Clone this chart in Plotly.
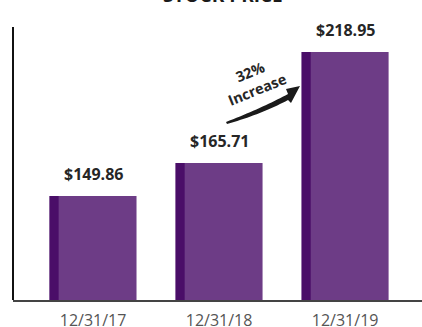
import plotly.graph_objects as go

# Year-end stock prices
dates = ["12/31/17", "12/31/18", "12/31/19"]
prices = [149.86, 165.71, 218.95]
price_labels = ["$149.86", "$165.71", "$218.95"]
change_label = "32%<br>Increase"

W, H = 422, 327
M_L, M_R, M_T, M_B = 13, 0, 27, 27
X_RANGE = [-0.635, 2.61]
Y_RANGE = [100.0, 231.0]

BAR_W = 0.69
STRIP_W = 0.072
MAIN = "#6D3C86"
DARK = "#4A0E68"

xs = list(range(len(dates)))

fig = go.Figure()
fig.add_trace(go.Bar(x=xs, y=prices, width=BAR_W, marker=dict(color=MAIN, line=dict(width=0)),
                     hoverinfo="skip"))
fig.add_trace(go.Bar(x=xs, y=prices, width=STRIP_W, offset=-BAR_W / 2,
                     marker=dict(color=DARK, line=dict(width=0)), hoverinfo="skip"))

# value labels above bars
for x, p, lab in zip(xs, prices, price_labels):
    fig.add_annotation(x=x, y=p, text=f"<b>{lab}</b>", showarrow=False, yanchor="bottom",
                       yshift=9, font=dict(family="Open Sans", size=16, color="#262626"))

# title (sits at the top edge)
fig.add_annotation(xref="paper", yref="paper", x=(223 - M_L) / (W - M_L), y=1, yanchor="bottom",
                   yshift=17, text="<b>STOCK PRICE</b>", showarrow=False,
                   font=dict(family="Open Sans", size=19, color="#1a1a1a"))

# growth callout text
pw, ph = W - M_L - M_R, H - M_T - M_B
def px(x, y):
    return (x - M_L) / pw, (H - M_B - y) / ph

tx, ty = px(253, 81)
fig.add_annotation(xref="paper", yref="paper", x=tx, y=ty, xanchor="center", yanchor="middle",
                   text=f"<b>{change_label}</b>", showarrow=False, textangle=-22,
                   font=dict(family="Open Sans", size=14.5, color="#262626"))

# curved tapered arrow
def bez(p0, p1, p2, n=20):
    pts = []
    for i in range(n + 1):
        t = i / n
        x = (1 - t) ** 2 * p0[0] + 2 * (1 - t) * t * p1[0] + t ** 2 * p2[0]
        y = (1 - t) ** 2 * p0[1] + 2 * (1 - t) * t * p1[1] + t ** 2 * p2[1]
        pts.append((x, y))
    return pts

upper = bez((226, 122), (262, 108), (288, 94))
lower = bez((288, 100), (262, 114), (227, 124))
head = [(286, 89), (300, 86), (291, 103)]
poly = upper + [head[0], head[1], head[2]] + lower
path = "M " + " L ".join(f"{px(a, b)[0]:.4f},{px(a, b)[1]:.4f}" for a, b in poly) + " Z"
fig.add_shape(type="path", xref="paper", yref="paper", path=path,
              fillcolor="#1a1a1a", line=dict(width=0))

# y axis line
fig.add_shape(type="line", xref="paper", yref="paper", x0=0, x1=0, y0=0, y1=1,
              line=dict(color="#111111", width=2))

fig.update_layout(
    width=W, height=H,
    margin=dict(l=M_L, r=M_R, t=M_T, b=M_B, autoexpand=False),
    paper_bgcolor="white", plot_bgcolor="white",
    barmode="overlay", showlegend=False,
    xaxis=dict(range=X_RANGE, tickvals=xs, ticktext=dates, showgrid=False, zeroline=False,
               automargin=False,
               showline=True, linecolor="#444444", linewidth=2,
               ticks="outside", ticklen=5, tickcolor="rgba(0,0,0,0)",
               tickfont=dict(family="Open Sans", size=16, color="#555555")),
    yaxis=dict(range=Y_RANGE, showgrid=False, zeroline=False, showticklabels=False,
               showline=False, automargin=False),
)

fig.write_html("out.html")
